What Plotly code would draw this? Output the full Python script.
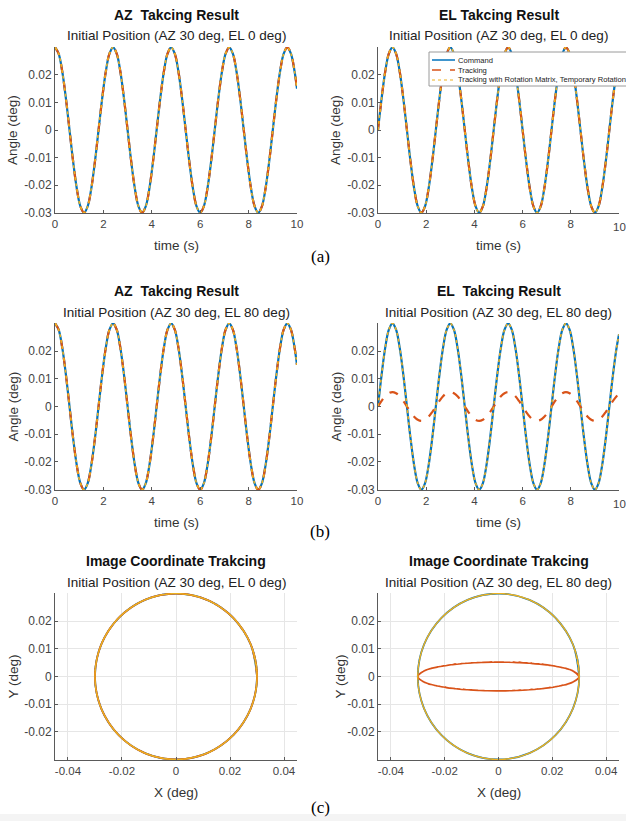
import plotly.graph_objects as go

# ---------------- data ----------------
time_s = [
    0, 0.15, 0.3, 0.45, 0.6, 0.75, 0.9, 1.05, 1.2, 1.35, 1.5, 1.65, 1.8, 1.95, 2.1, 2.25,
    2.4, 2.55, 2.7, 2.85, 3.0, 3.15, 3.3, 3.45, 3.6, 3.75, 3.9, 4.05, 4.2, 4.35, 4.5, 4.65,
    4.8, 4.95, 5.1, 5.25, 5.4, 5.55, 5.7, 5.85, 6.0, 6.15, 6.3, 6.45, 6.6, 6.75, 6.9, 7.05,
    7.2, 7.35, 7.5, 7.65, 7.8, 7.95, 8.1, 8.25, 8.4, 8.55, 8.7, 8.85, 9.0, 9.15, 9.3, 9.45,
    9.6, 9.75, 9.9, 10.0,
]

# AZ command angle (deg); the tracking curves lie on top of it in both cases
az_command = [
    0.03, 0.0277, 0.0212, 0.0115, 0, -0.0115, -0.0212, -0.0277, -0.03, -0.0277, -0.0212, -0.0115, 0, 0.0115, 0.0212, 0.0277,
    0.03, 0.0277, 0.0212, 0.0115, 0, -0.0115, -0.0212, -0.0277, -0.03, -0.0277, -0.0212, -0.0115, 0, 0.0115, 0.0212, 0.0277,
    0.03, 0.0277, 0.0212, 0.0115, 0, -0.0115, -0.0212, -0.0277, -0.03, -0.0277, -0.0212, -0.0115, 0, 0.0115, 0.0212, 0.0277,
    0.03, 0.0277, 0.0212, 0.0115, 0, -0.0115, -0.0212, -0.0277, -0.03, -0.0277, -0.0212, -0.0115, 0, 0.0115, 0.0212, 0.0277,
    0.03, 0.0277, 0.0212, 0.015,
]

# EL command angle (deg)
el_command = [
    0, 0.0115, 0.0212, 0.0277, 0.03, 0.0277, 0.0212, 0.0115, 0, -0.0115, -0.0212, -0.0277, -0.03, -0.0277, -0.0212, -0.0115,
    0, 0.0115, 0.0212, 0.0277, 0.03, 0.0277, 0.0212, 0.0115, 0, -0.0115, -0.0212, -0.0277, -0.03, -0.0277, -0.0212, -0.0115,
    0, 0.0115, 0.0212, 0.0277, 0.03, 0.0277, 0.0212, 0.0115, 0, -0.0115, -0.0212, -0.0277, -0.03, -0.0277, -0.0212, -0.0115,
    0, 0.0115, 0.0212, 0.0277, 0.03, 0.0277, 0.0212, 0.0115, 0, -0.0115, -0.0212, -0.0277, -0.03, -0.0277, -0.0212, -0.0115,
    0, 0.0115, 0.0212, 0.026,
]

# EL tracking (plain) for initial position EL 80 deg (deg)
el_tracking_el80 = [
    0, 0.0020, 0.0037, 0.0048, 0.0052, 0.0048, 0.0037, 0.0020, 0, -0.0020, -0.0037, -0.0048, -0.0052, -0.0048, -0.0037, -0.0020,
    0, 0.0020, 0.0037, 0.0048, 0.0052, 0.0048, 0.0037, 0.0020, 0, -0.0020, -0.0037, -0.0048, -0.0052, -0.0048, -0.0037, -0.0020,
    0, 0.0020, 0.0037, 0.0048, 0.0052, 0.0048, 0.0037, 0.0020, 0, -0.0020, -0.0037, -0.0048, -0.0052, -0.0048, -0.0037, -0.0020,
    0, 0.0020, 0.0037, 0.0048, 0.0052, 0.0048, 0.0037, 0.0020, 0, -0.0020, -0.0037, -0.0048, -0.0052, -0.0048, -0.0037, -0.0020,
    0, 0.0020, 0.0037, 0.0045,
]

series_names = ["Command", "Tracking", "Tracking with Rotation Matrix, Temporary Rotation"]
angle_ticks = [-0.03, -0.02, -0.01, 0, 0.01, 0.02]
angle_ticktext = ["-0.03", "-0.02", "-0.01", "0", "0.01", "0.02"]
time_ticks = [0, 2, 4, 6, 8, 10]
time_ticktext = ["0", "2", "4", "6", "8", "10"]
img_x_ticks = [-0.04, -0.02, 0, 0.02, 0.04]
img_x_ticktext = ["-0.04", "-0.02", "0", "0.02", "0.04"]
img_y_ticks = [-0.02, -0.01, 0, 0.01, 0.02]
img_y_ticktext = ["-0.02", "-0.01", "0", "0.01", "0.02"]

titles = ["AZ  Takcing Result", "EL Takcing Result", "AZ  Takcing Result", "EL  Takcing Result",
          "Image Coordinate Trakcing", "Image Coordinate Trakcing"]
subtitles = ["Initial Position (AZ 30 deg, EL 0 deg)", "Initial Position (AZ 30 deg, EL 0 deg)",
             "Initial Position (AZ 30 deg, EL 80 deg)", "Initial Position (AZ 30 deg, EL 80 deg)",
             "Initial Position (AZ 30 deg, EL 0 deg)", "Initial Position (AZ 30 deg, EL 80 deg)"]

# ---------------- styling ----------------
W, H = 626, 821
BLUE, ORANGE, YELLOW = "#0072BD", "#D95319", "#EDB120"
FONT = "Liberation Sans, Arial, sans-serif"
AXCOL = "#5a5a5a"
TXT = "#333333"


def px(x):
    return x / W


def py(y):
    return 1 - y / H


colL = (55, 297)
colR = (378, 619)
rows = [(47, 213), (323, 490), (593, 760)]

fig = go.Figure()

panels = [
    (1, time_s, [az_command, az_command, az_command]),
    (2, time_s, [el_command, el_command, el_command]),
    (3, time_s, [az_command, az_command, az_command]),
    (4, time_s, [el_command, el_tracking_el80, el_command]),
    (5, None, [(az_command, el_command), (az_command, el_command), (az_command, el_command)]),
    (6, None, [(az_command, el_command), (az_command, el_tracking_el80), (az_command, el_command)]),
]

styles = [
    dict(color=BLUE, width=2.2, dash="solid"),
    dict(color=ORANGE, width=2.2, dash="dash"),
    dict(color=YELLOW, width=1.6, dash="dot"),
]

for idx, xdata, ys in panels:
    suffix = "" if idx == 1 else str(idx)
    for k in range(3):
        if xdata is None:
            xv, yv = ys[k]
        else:
            xv, yv = xdata, ys[k]
        st = dict(styles[k])
        if idx >= 5:
            st["width"] = 1.8 if k < 2 else 1.4
        if idx == 6 and k == 1:
            st = dict(color=ORANGE, width=1.6, dash="dashdot")
        fig.add_trace(go.Scatter(
            x=xv, y=yv, mode="lines",
            line=dict(color=st["color"], width=st["width"], dash=st["dash"], shape="spline", smoothing=1.0),
            name=series_names[k],
            showlegend=False,
            xaxis="x" + suffix, yaxis="y" + suffix,
            hoverinfo="skip",
        ))

common_axis = dict(
    showline=True, linecolor=AXCOL, linewidth=1, ticks="inside", ticklen=3,
    tickcolor=AXCOL, tickfont=dict(family=FONT, size=12, color="#444444"),
    zeroline=False, mirror=False, automargin=False, ticklabeloverflow="allow",
)
xfont = dict(family=FONT, size=11.5, color="#444444")

layout = {}
annotations = []
for i in range(6):
    r = i // 2
    right = i % 2 == 1
    c = colR if right else colL
    n = i + 1
    xs = "xaxis" if n == 1 else f"xaxis{n}"
    ys = "yaxis" if n == 1 else f"yaxis{n}"
    yanchor = "y" if n == 1 else f"y{n}"
    xanchor = "x" if n == 1 else f"x{n}"
    if r < 2:
        # the last label of the right-hand time axes sits at the page edge: draw it as a text
        ttext = time_ticktext[:-1] + [""] if right else time_ticktext
        layout[xs] = dict(common_axis, domain=[px(c[0]), px(c[1])], anchor=yanchor, tickfont=xfont,
                          range=[0, 10], tickvals=time_ticks, ticktext=ttext, showgrid=False)
        layout[ys] = dict(common_axis, domain=[py(rows[r][1]), py(rows[r][0])], anchor=xanchor,
                          range=[-0.0301, 0.0301], tickvals=angle_ticks, ticktext=angle_ticktext,
                          showgrid=False)
        if right:
            annotations.append(dict(x=px(c[1]), y=py(rows[r][1] + 14), xref="paper", yref="paper",
                                    text=time_ticktext[-1], showarrow=False, xanchor="center", yanchor="middle",
                                    font=xfont))
    else:
        layout[xs] = dict(common_axis, domain=[px(c[0]), px(c[1])], anchor=yanchor, tickfont=xfont,
                          range=[-0.0448, 0.0448], tickvals=img_x_ticks, ticktext=img_x_ticktext,
                          showgrid=True, gridcolor="#e6e6e6", gridwidth=1)
        layout[ys] = dict(common_axis, domain=[py(rows[r][1]), py(rows[r][0])], anchor=xanchor,
                          range=[-0.0302, 0.0302], tickvals=img_y_ticks, ticktext=img_y_ticktext,
                          showgrid=True, gridcolor="#e6e6e6", gridwidth=1)

for i in range(6):
    r = i // 2
    c = colL if i % 2 == 0 else colR
    cx = (c[0] + c[1]) / 2
    top, bot = rows[r]
    annotations.append(dict(x=px(cx), y=py(top - 32), xref="paper", yref="paper", text="<b>" + titles[i] + "</b>",
                            showarrow=False, font=dict(family=FONT, size=14, color="#111111"),
                            xanchor="center", yanchor="middle"))
    annotations.append(dict(x=px(cx), y=py(top - 11), xref="paper", yref="paper", text=subtitles[i],
                            showarrow=False, font=dict(family=FONT, size=13.5, color="#222222"),
                            xanchor="center", yanchor="middle"))
    xlabel = "time (s)" if r < 2 else "X (deg)"
    ylabel = "Angle (deg)" if r < 2 else "Y (deg)"
    annotations.append(dict(x=px(cx), y=py(bot + 32), xref="paper", yref="paper", text=xlabel,
                            showarrow=False, font=dict(family=FONT, size=13.5, color=TXT),
                            xanchor="center", yanchor="middle"))
    ylx = 13 if i % 2 == 0 else (336 if r < 2 else 340)
    annotations.append(dict(x=px(ylx), y=py((top + bot) / 2), xref="paper", yref="paper", text=ylabel,
                            showarrow=False, textangle=-90, font=dict(family=FONT, size=13.5, color=TXT),
                            xanchor="center", yanchor="middle"))

for lab, yy in [("(a)", 256), ("(b)", 531), ("(c)", 807)]:
    annotations.append(dict(x=px(320), y=py(yy), xref="paper", yref="paper", text=lab, showarrow=False,
                            font=dict(family="Liberation Serif, Times New Roman, serif", size=17, color="#000000"),
                            xanchor="center", yanchor="middle"))

# compact legend (as in the reference) drawn inside the EL 0 deg panel
shapes = [dict(type="rect", xref="paper", yref="paper", x0=0, x1=1, y0=0, y1=py(814),
               fillcolor="#f4f4f4", line=dict(width=0), layer="below")]
shapes.append(dict(type="rect", xref="paper", yref="paper", x0=px(429), x1=px(640), y0=py(86), y1=py(52),
                   fillcolor="white", line=dict(color="#9a9a9a", width=1), layer="above"))
leg_rows = [60, 70, 80]
for k in range(3):
    st = styles[k]
    shapes.append(dict(type="line", xref="paper", yref="paper", x0=px(432), x1=px(455),
                       y0=py(leg_rows[k]), y1=py(leg_rows[k]),
                       line=dict(color=st["color"], width=1.5 if k < 2 else 1.2, dash=st["dash"]),
                       layer="above"))
    annotations.append(dict(x=px(456), y=py(leg_rows[k]), xref="paper", yref="paper", text=series_names[k],
                            showarrow=False, xanchor="left", yanchor="middle",
                            font=dict(family=FONT, size=7.6, color="#222222")))

fig.update_layout(
    width=W, height=H,
    margin=dict(l=0, r=0, t=0, b=0),
    paper_bgcolor="white", plot_bgcolor="white",
    annotations=annotations,
    shapes=shapes,
    showlegend=False,
    **layout,
)

post = (
    "document.documentElement.style.overflow='hidden';"
    "document.body.style.margin='0';document.body.style.padding='0';"
    "document.body.style.overflow='hidden';"
)

fig.write_html("out.html", config={"displayModeBar": False, "staticPlot": True}, post_script=post)
